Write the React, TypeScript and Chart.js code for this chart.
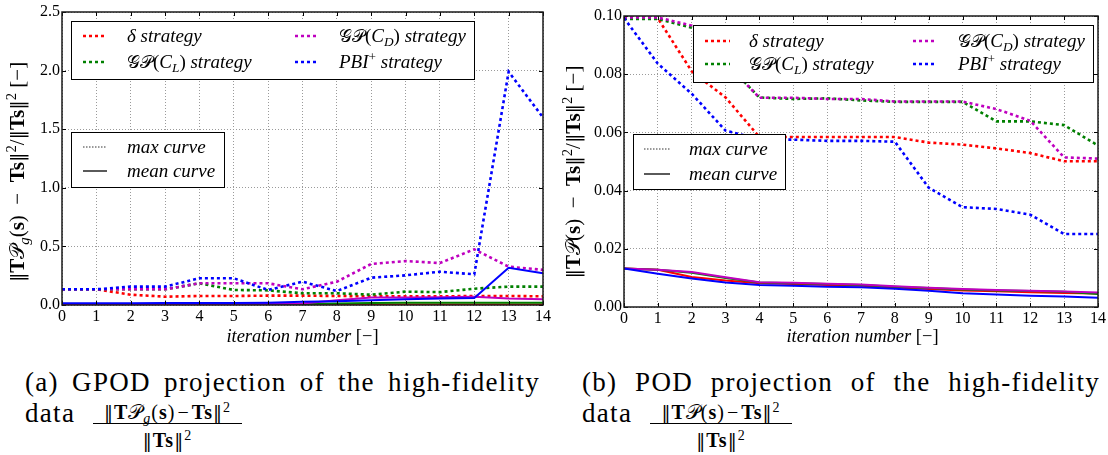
import React, { useEffect, useRef } from "react";
import { Chart, registerables } from "chart.js";
Chart.register(...registerables);

// ---------------- data ----------------
const iterations = [0, 1, 2, 3, 4, 5, 6, 7, 8, 9, 10, 11, 12, 13, 14];

// (a) GPOD projection
const gpodDeltaMax = [0.134, 0.134, 0.088, 0.071, 0.077, 0.077, 0.08, 0.08, 0.077, 0.074, 0.074, 0.074, 0.077, 0.077, 0.074];
const gpodDeltaMean = [0.005, 0.005, 0.005, 0.005, 0.005, 0.005, 0.005, 0.005, 0.005, 0.005, 0.005, 0.005, 0.005, 0.005, 0.005];
const gpodClMax = [0.134, 0.134, 0.134, 0.134, 0.185, 0.128, 0.125, 0.1, 0.1, 0.088, 0.114, 0.11, 0.139, 0.157, 0.157];
const gpodClMean = [0.006, 0.006, 0.006, 0.006, 0.007, 0.007, 0.008, 0.009, 0.012, 0.018, 0.02, 0.02, 0.02, 0.02, 0.02];
const gpodCdMax = [0.134, 0.134, 0.134, 0.134, 0.185, 0.185, 0.185, 0.134, 0.199, 0.35, 0.375, 0.358, 0.475, 0.327, 0.3];
const gpodCdMean = [0.008, 0.008, 0.008, 0.008, 0.009, 0.009, 0.01, 0.012, 0.04, 0.065, 0.065, 0.067, 0.07, 0.055, 0.05];
const gpodPbiMax = [0.134, 0.134, 0.157, 0.157, 0.228, 0.228, 0.128, 0.199, 0.119, 0.233, 0.253, 0.284, 0.262, 1.99, 1.6];
const gpodPbiMean = [0.015, 0.015, 0.015, 0.016, 0.018, 0.018, 0.02, 0.027, 0.033, 0.04, 0.05, 0.055, 0.06, 0.318, 0.27];

// (b) POD projection
const podDeltaMax = [0.0995, 0.0992, 0.081, 0.072, 0.0584, 0.0584, 0.0584, 0.0584, 0.0584, 0.0565, 0.0558, 0.0545, 0.0529, 0.0501, 0.0501];
const podDeltaMean = [0.0132, 0.0128, 0.0103, 0.0091, 0.0082, 0.0079, 0.0076, 0.0073, 0.0067, 0.0062, 0.0057, 0.0054, 0.0051, 0.0048, 0.0046];
const podClMax = [0.099, 0.099, 0.096, 0.084, 0.072, 0.0715, 0.0717, 0.071, 0.0705, 0.0705, 0.0705, 0.0638, 0.0638, 0.0625, 0.0555];
const podClMean = [0.0132, 0.0128, 0.0118, 0.01, 0.0084, 0.0082, 0.0079, 0.0076, 0.007, 0.0065, 0.006, 0.0057, 0.0055, 0.0052, 0.0045];
const podCdMax = [0.0995, 0.0995, 0.0967, 0.084, 0.0719, 0.0719, 0.0715, 0.0715, 0.0706, 0.0706, 0.0706, 0.068, 0.064, 0.0514, 0.051];
const podCdMean = [0.0132, 0.0128, 0.012, 0.0102, 0.0085, 0.0083, 0.008, 0.0077, 0.0071, 0.0066, 0.0062, 0.0058, 0.0056, 0.0053, 0.005];
const podPbiMax = [0.0993, 0.0836, 0.0733, 0.0606, 0.0577, 0.0575, 0.0571, 0.0571, 0.0568, 0.041, 0.0343, 0.0337, 0.0317, 0.0251, 0.0251];
const podPbiMean = [0.0132, 0.0114, 0.0098, 0.0084, 0.0076, 0.0073, 0.007, 0.0068, 0.0063, 0.0056, 0.0047, 0.0043, 0.0039, 0.0036, 0.0032];

const gpodYTicks = { min: 0, max: 2.5, step: 0.5, digits: 1 };
const podYTicks = { min: 0, max: 0.1, step: 0.02, digits: 2 };

// ---------------- styles ----------------
const SERIF = '"Liberation Serif"';
const DJV = '"DejaVu Serif"';
const RED = "#ff0000";
const GREEN = "#008000";
const MAGENTA = "#bf00bf";
const BLUE = "#0000ff";
const DOT = [3, 3];

type Run = { t: string; st?: string; sc?: number; dy?: number; ff?: string };

const fontOf = (r: Run, size: number) =>
  `${r.st ? r.st + " " : ""}${(size * (r.sc ?? 1)).toFixed(1)}px ${r.ff ?? SERIF}`;

function runsWidth(ctx: CanvasRenderingContext2D, runs: Run[], size: number) {
  let w = 0;
  for (const r of runs) {
    ctx.font = fontOf(r, size);
    w += ctx.measureText(r.t).width;
  }
  return w;
}

function drawRuns(ctx: CanvasRenderingContext2D, runs: Run[], x: number, y: number, size: number, align: "left" | "center" = "left") {
  const w = runsWidth(ctx, runs, size);
  let cx = align === "center" ? x - w / 2 : x;
  ctx.textAlign = "left";
  ctx.textBaseline = "alphabetic";
  ctx.fillStyle = "#000";
  for (const r of runs) {
    ctx.font = fontOf(r, size);
    ctx.fillText(r.t, cx, y + (r.dy ?? 0) * size);
    cx += ctx.measureText(r.t).width;
  }
}

const deltaRuns: Run[] = [{ t: "δ strategy", st: "italic" }];
const clRuns: Run[] = [
  { t: "𝒢𝒫", sc: 0.95 },
  { t: "(" },
  { t: "C", st: "italic" },
  { t: "L", st: "italic", sc: 0.7, dy: 0.2 },
  { t: ")" },
  { t: " strategy", st: "italic" },
];
const cdRuns: Run[] = [
  { t: "𝒢𝒫", sc: 0.95 },
  { t: "(" },
  { t: "C", st: "italic" },
  { t: "D", st: "italic", sc: 0.7, dy: 0.2 },
  { t: ")" },
  { t: " strategy", st: "italic" },
];
const pbiRuns: Run[] = [
  { t: "PBI", st: "italic" },
  { t: "+", sc: 0.7, dy: -0.38 },
  { t: " strategy", st: "italic" },
];
const maxRuns: Run[] = [{ t: "max curve", st: "italic" }];
const meanRuns: Run[] = [{ t: "mean curve", st: "italic" }];
const xTitleRuns: Run[] = [{ t: "iteration number", st: "italic" }, { t: " [−]" }];

const yLabelRuns = (sub: boolean): Run[] => [
  { t: "‖", ff: DJV, sc: 0.9 },
  { t: "T", st: "bold" },
  { t: "𝒫", sc: 0.95 },
  ...(sub ? [{ t: "g", st: "italic", sc: 0.7, dy: 0.22 }] : []),
  { t: "(" },
  { t: "s", st: "bold" },
  { t: ")" },
  { t: "  −  " },
  { t: "Ts", st: "bold" },
  { t: "‖", ff: DJV, sc: 0.9 },
  { t: "2", sc: 0.7, dy: -0.4 },
  { t: "/" },
  { t: "‖", ff: DJV, sc: 0.9 },
  { t: "Ts", st: "bold" },
  { t: "‖", ff: DJV, sc: 0.9 },
  { t: "2", sc: 0.7, dy: -0.4 },
  { t: " [−]" },
];

type Entry = { x0: number; x1: number; tx: number; y: number; color: string; dash: number[]; lw: number; runs: Run[] };
type LegendSpec = { box: [number, number, number, number]; entries: Entry[] };
type Layout = {
  width: number;
  height: number;
  left: number;
  top: number;
  right: number;
  bottom: number;
  legends: LegendSpec[];
  yLabel: { x: number; y: number; runs: Run[] };
  xTitle: { x: number; y: number };
};

function makeDecor(L: Layout) {
  return {
    id: "decor",
    afterDraw(chart: any) {
      const ctx: CanvasRenderingContext2D = chart.ctx;
      const a = chart.chartArea;
      const xs = chart.scales.x;
      const ys = chart.scales.y;
      ctx.save();
      const line = (x0: number, y0: number, x1: number, y1: number) => {
        ctx.beginPath();
        ctx.moveTo(x0, y0);
        ctx.lineTo(x1, y1);
        ctx.stroke();
      };
      // inward tick marks on all sides
      ctx.strokeStyle = "#000";
      ctx.lineWidth = 1;
      ctx.setLineDash([]);
      for (const t of xs.ticks) {
        const px = Math.round(xs.getPixelForValue(t.value)) + 0.5;
        line(px, a.bottom, px, a.bottom - 4);
        line(px, a.top, px, a.top + 4);
      }
      for (const t of ys.ticks) {
        const py = Math.round(ys.getPixelForValue(t.value)) + 0.5;
        line(a.left, py, a.left + 4, py);
        line(a.right, py, a.right - 4, py);
      }
      // frame
      ctx.strokeStyle = "#1a1a1a";
      ctx.lineWidth = 1.5;
      ctx.strokeRect(a.left, a.top, a.right - a.left, a.bottom - a.top);
      // legends
      for (const lg of L.legends) {
        const [bx0, by0, bx1, by1] = lg.box;
        ctx.fillStyle = "#fff";
        ctx.fillRect(bx0, by0, bx1 - bx0, by1 - by0);
        ctx.strokeStyle = "#000";
        ctx.lineWidth = 1;
        ctx.setLineDash([]);
        ctx.strokeRect(bx0 + 0.5, by0 + 0.5, bx1 - bx0, by1 - by0);
        for (const e of lg.entries) {
          ctx.strokeStyle = e.color;
          ctx.lineWidth = e.lw;
          ctx.setLineDash(e.dash);
          line(e.x0, e.y, e.x1, e.y);
          ctx.setLineDash([]);
          drawRuns(ctx, e.runs, e.tx, e.y + 6, 19);
        }
      }
      // x title
      drawRuns(ctx, xTitleRuns, L.xTitle.x, L.xTitle.y + 5, 18.5, "center");
      // y label
      ctx.save();
      ctx.translate(L.yLabel.x, L.yLabel.y);
      ctx.rotate(-Math.PI / 2);
      drawRuns(ctx, L.yLabel.runs, 0, 6, 21, "center");
      ctx.restore();
      ctx.restore();
    },
  };
}

function strategyEntries(c1: [number, number, number], c2: [number, number, number], r1: number, r2: number): Entry[] {
  const mk = (c: [number, number, number], y: number, color: string, runs: Run[]): Entry => ({
    x0: c[0], x1: c[1], tx: c[2], y, color, dash: DOT, lw: 2.5, runs,
  });
  return [
    mk(c1, r1, RED, deltaRuns),
    mk(c1, r2, GREEN, clRuns),
    mk(c2, r1, MAGENTA, cdRuns),
    mk(c2, r2, BLUE, pbiRuns),
  ];
}

function styleEntries(c: [number, number, number], r1: number, r2: number): Entry[] {
  return [
    { x0: c[0], x1: c[1], tx: c[2], y: r1, color: "#333", dash: [1.5, 1.5], lw: 1, runs: maxRuns },
    { x0: c[0], x1: c[1], tx: c[2], y: r2, color: "#000", dash: [], lw: 1.3, runs: meanRuns },
  ];
}

const leftLayout: Layout = {
  width: 560,
  height: 350,
  left: 62,
  top: 12,
  right: 543,
  bottom: 305,
  legends: [
    { box: [71, 21, 474, 79], entries: strategyEntries([83, 107, 127], [295, 319, 339], 36, 62) },
    { box: [71, 132, 224, 187], entries: styleEntries([83, 107, 127], 147, 171) },
  ],
  yLabel: { x: 18, y: 172, runs: yLabelRuns(true) },
  xTitle: { x: 302.5, y: 337 },
};

const rightLayout: Layout = {
  width: 548,
  height: 350,
  left: 64,
  top: 16,
  right: 541,
  bottom: 307,
  legends: [
    { box: [133, 25, 533, 82], entries: strategyEntries([145, 170, 189], [353, 377, 398], 41, 64) },
    { box: [73, 134, 225, 189], entries: styleEntries([84, 110, 129], 149, 174) },
  ],
  yLabel: { x: 14, y: 172, runs: yLabelRuns(false) },
  xTitle: { x: 302.5, y: 337 },
};

type Series = { max: number[]; mean: number[]; color: string };

function buildDatasets(series: Series[]) {
  const out: any[] = [];
  for (const s of series) {
    out.push({
      data: iterations.map((x, i) => ({ x, y: s.max[i] })),
      borderColor: s.color,
      borderWidth: 2.6,
      borderDash: DOT,
      pointRadius: 0,
      tension: 0,
      fill: false,
    });
    out.push({
      data: iterations.map((x, i) => ({ x, y: s.mean[i] })),
      borderColor: s.color,
      borderWidth: 2,
      pointRadius: 0,
      tension: 0,
      fill: false,
    });
  }
  return out;
}

function ChartPanel({ layout, series, yt, pos }: { layout: Layout; series: Series[]; yt: typeof gpodYTicks; pos: number }) {
  const ref = useRef<HTMLCanvasElement>(null);
  useEffect(() => {
    if (!ref.current) return;
    const L = layout;
    const tickFont = { family: SERIF, size: 16 };
    const chart = new Chart(ref.current, {
      type: "line",
      data: { datasets: buildDatasets(series) },
      options: {
        responsive: false,
        animation: false,
        layout: { padding: { left: 0, top: L.top, right: L.width - L.right, bottom: 0 } },
        plugins: { legend: { display: false }, tooltip: { enabled: false } },
        scales: {
          x: {
            type: "linear",
            min: iterations[0],
            max: iterations[iterations.length - 1],
            ticks: { stepSize: 1, font: tickFont, color: "#000", padding: 2, maxRotation: 0 },
            grid: { color: "#9a9a9a", lineWidth: 1, drawTicks: false },
            border: { display: false, dash: [1, 2] },
            afterFit: (s: any) => {
              s.height = L.height - L.bottom;
            },
          },
          y: {
            type: "linear",
            min: yt.min,
            max: yt.max,
            ticks: {
              stepSize: yt.step,
              font: tickFont,
              color: "#000",
              padding: 2,
              callback: (v: any) => Number(v).toFixed(yt.digits),
            },
            grid: { color: "#9a9a9a", lineWidth: 1, drawTicks: false },
            border: { display: false, dash: [1, 2] },
            afterFit: (s: any) => {
              s.width = L.left;
            },
          },
        },
      },
      plugins: [makeDecor(L)],
    });
    return () => chart.destroy();
  }, []);
  return (
    <canvas
      ref={ref}
      width={layout.width}
      height={layout.height}
      style={{ position: "absolute", left: pos, top: 0, width: layout.width, height: layout.height }}
    />
  );
}

const capFont: React.CSSProperties = {
  fontFamily: SERIF,
  fontSize: 27,
  lineHeight: "27px",
  letterSpacing: "1.3px",
  whiteSpace: "nowrap",
  position: "absolute",
  color: "#000",
};

const capLine: React.CSSProperties = {
  ...capFont,
  textAlign: "justify",
  textAlignLast: "justify",
  whiteSpace: "normal",
};

const Bars = () => <span style={{ fontFamily: DJV, fontSize: "0.9em" }}>‖</span>;

function Frac({ left, width, sub }: { left: number; width: number; sub: boolean }) {
  const f: React.CSSProperties = {
    position: "absolute",
    left,
    width,
    textAlign: "center",
    fontFamily: SERIF,
    fontSize: 20,
    lineHeight: "20px",
    letterSpacing: "1px",
    whiteSpace: "nowrap",
    color: "#000",
  };
  const sup: React.CSSProperties = { fontSize: 14, verticalAlign: "7px" };
  return (
    <>
      <div style={{ ...f, top: 398 }}>
        <Bars />
        <b>T</b>
        <span>𝒫</span>
        {sub ? <i style={{ fontSize: 14, verticalAlign: "-4px" }}>g</i> : null}(<b>s</b>)<span style={{ padding: "0 2px" }}>−</span><b>Ts</b>
        <Bars />
        <span style={sup}>2</span>
      </div>
      <div style={{ position: "absolute", left, top: 423, width, height: 0, borderTop: "1px solid #000" }} />
      <div style={{ ...f, top: 426 }}>
        <Bars />
        <b>Ts</b>
        <Bars />
        <span style={sup}>2</span>
      </div>
    </>
  );
}

export default function App() {
  useEffect(() => {
    document.body.style.margin = "0";
  }, []);
  const gpodSeries: Series[] = [
    { max: gpodPbiMax, mean: gpodPbiMean, color: BLUE },
    { max: gpodCdMax, mean: gpodCdMean, color: MAGENTA },
    { max: gpodClMax, mean: gpodClMean, color: GREEN },
    { max: gpodDeltaMax, mean: gpodDeltaMean, color: RED },
  ];
  const podSeries: Series[] = [
    { max: podPbiMax, mean: podPbiMean, color: BLUE },
    { max: podCdMax, mean: podCdMean, color: MAGENTA },
    { max: podClMax, mean: podClMean, color: GREEN },
    { max: podDeltaMax, mean: podDeltaMean, color: RED },
  ];
  return (
    <div style={{ position: "relative", width: 1108, height: 455, background: "#fff", overflow: "hidden" }}>
      <ChartPanel layout={leftLayout} series={gpodSeries} yt={gpodYTicks} pos={0} />
      <ChartPanel layout={rightLayout} series={podSeries} yt={podYTicks} pos={560} />
      <div style={{ ...capLine, left: 25, top: 369, width: 515 }}>(a) GPOD projection of the high-fidelity</div>
      <div style={{ ...capFont, left: 25, top: 400 }}>data</div>
      <Frac left={93} width={149} sub={true} />
      <div style={{ ...capLine, left: 582, top: 369, width: 518 }}>(b) POD projection of the high-fidelity</div>
      <div style={{ ...capFont, left: 582, top: 400 }}>data</div>
      <Frac left={650} width={142} sub={false} />
    </div>
  );
}
